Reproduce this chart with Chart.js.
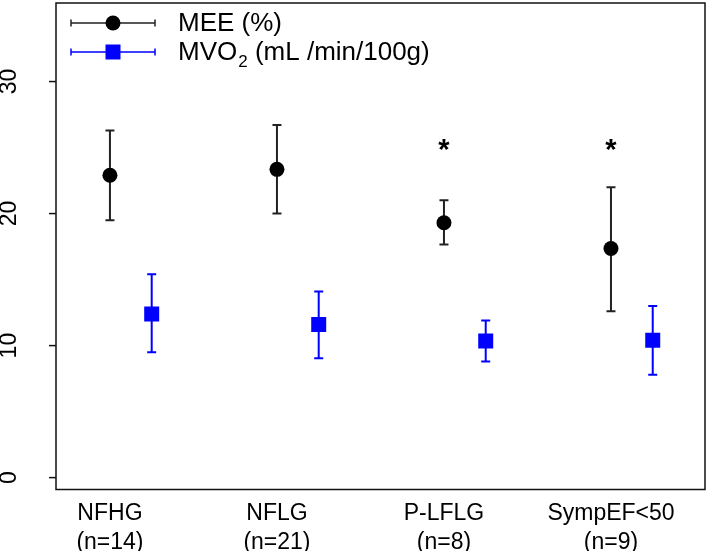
<!DOCTYPE html>
<html>
<head>
<meta charset="utf-8">
<script src="https://cdn.jsdelivr.net/npm/chart.js@4.4.1/dist/chart.umd.min.js"></script>
<style>
  html, body { margin: 0; padding: 0; background: #fff; }
  canvas { display: block; }
</style>
</head>
<body>
<canvas id="chart" width="709" height="551"></canvas>
<script>
// groups and their sample sizes
const categories = ["NFHG", "NFLG", "P-LFLG", "SympEF<50"];
const groupN = ["(n=14)", "(n=21)", "(n=8)", "(n=9)"];

// MEE (%) mean and error bar ends
const meeMean = [22.9, 23.35, 19.3, 17.35];
const meeLow = [19.5, 20.0, 17.65, 12.6];
const meeHigh = [26.3, 26.7, 21.0, 22.0];

// MVO2 (mL/min/100g) mean and error bar ends
const mvoMean = [12.4, 11.6, 10.35, 10.4];
const mvoLow = [9.5, 9.05, 8.8, 7.8];
const mvoHigh = [15.4, 14.1, 11.9, 13.0];

// significance marks above MEE
const sigMarks = ["", "", "*", "*"];
const sigLevel = 25.1;

const yTicks = [0, 10, 20, 30];

const FONT = "'Liberation Sans', Arial, sans-serif";
const BLACK = "#000000";
const BAR_BLACK = "#222222";
const BLUE = "#0000ff";
const MVO_OFFSET = 0.25;

const meePoints = meeMean.map((v, i) => ({ x: i + 1, y: v }));
const mvoPoints = mvoMean.map((v, i) => ({ x: i + 1 + MVO_OFFSET, y: v }));

// error bars, box, y axis labels, asterisks and legend
const extras = {
  id: "extras",
  beforeDatasetsDraw(chart) {
    const ctx = chart.ctx;
    const xs = chart.scales.x, ys = chart.scales.y;
    const bars = [
      { low: meeLow, high: meeHigh, off: 0, color: BAR_BLACK },
      { low: mvoLow, high: mvoHigh, off: MVO_OFFSET, color: BLUE }
    ];
    ctx.save();
    ctx.lineWidth = 2;
    bars.forEach(b => {
      ctx.strokeStyle = b.color;
      b.low.forEach((lo, i) => {
        const px = xs.getPixelForValue(i + 1 + b.off);
        const y1 = ys.getPixelForValue(lo);
        const y2 = ys.getPixelForValue(b.high[i]);
        ctx.beginPath();
        ctx.moveTo(px, y1); ctx.lineTo(px, y2);
        ctx.moveTo(px - 4.5, y1); ctx.lineTo(px + 4.5, y1);
        ctx.moveTo(px - 4.5, y2); ctx.lineTo(px + 4.5, y2);
        ctx.stroke();
      });
    });
    ctx.restore();
  },
  afterDraw(chart) {
    const ctx = chart.ctx;
    const a = chart.chartArea;
    const xs = chart.scales.x, ys = chart.scales.y;
    ctx.save();

    // plot box
    ctx.strokeStyle = "#111";
    ctx.lineWidth = 1.5;
    ctx.strokeRect(a.left, a.top, a.right - a.left, a.bottom - a.top);

    // y ticks, rotated labels
    ctx.fillStyle = "#000";
    ctx.font = "23px " + FONT;
    ctx.textAlign = "center";
    ctx.textBaseline = "middle";
    yTicks.forEach(t => {
      const py = ys.getPixelForValue(t);
      ctx.beginPath();
      ctx.moveTo(a.left - 7, py); ctx.lineTo(a.left, py);
      ctx.stroke();
      ctx.save();
      ctx.translate(10, py);
      ctx.rotate(-Math.PI / 2);
      ctx.fillText(String(t), 0, 0);
      ctx.restore();
    });

    // asterisks
    ctx.fillStyle = BLACK;
    ctx.font = "bold 29px " + FONT;
    sigMarks.forEach((m, i) => {
      if (!m) return;
      ctx.fillText(m, xs.getPixelForValue(i + 1), ys.getPixelForValue(sigLevel) + 5);
    });

    // legend
    const rows = [
      { y: 23, color: BAR_BLACK, fill: BLACK, shape: "circle" },
      { y: 52, color: BLUE, fill: BLUE, shape: "rect" }
    ];
    rows.forEach(r => {
      ctx.strokeStyle = r.color;
      ctx.lineWidth = 1.5;
      ctx.beginPath();
      ctx.moveTo(71, r.y); ctx.lineTo(155, r.y);
      ctx.moveTo(71, r.y - 3.5); ctx.lineTo(71, r.y + 3.5);
      ctx.moveTo(155, r.y - 3.5); ctx.lineTo(155, r.y + 3.5);
      ctx.stroke();
      ctx.fillStyle = r.fill;
      ctx.beginPath();
      if (r.shape === "circle") ctx.arc(113, r.y, 7.5, 0, Math.PI * 2);
      else ctx.rect(105.5, r.y - 7.5, 15, 15);
      ctx.fill();
    });
    ctx.fillStyle = "#000";
    ctx.textAlign = "left";
    ctx.textBaseline = "middle";
    ctx.font = "26px " + FONT;
    ctx.fillText("MEE (%)", 178, 24);
    let tx = 178;
    ctx.fillText("MVO", tx, 53);
    tx += ctx.measureText("MVO").width;
    ctx.font = "17px " + FONT;
    ctx.fillText("2", tx + 1, 62);
    tx += ctx.measureText("2").width + 1;
    ctx.font = "26px " + FONT;
    ctx.fillText(" (mL /min/100g)", tx, 53);

    ctx.restore();
  }
};

new Chart(document.getElementById("chart").getContext("2d"), {
  type: "scatter",
  data: {
    datasets: [
      {
        label: "MEE (%)",
        data: meePoints,
        pointStyle: "circle",
        pointRadius: 7.5,
        backgroundColor: BLACK,
        borderColor: BLACK,
        borderWidth: 0
      },
      {
        label: "MVO2 (mL /min/100g)",
        data: mvoPoints,
        pointStyle: "rect",
        pointRadius: 10.6,
        backgroundColor: BLUE,
        borderColor: BLUE,
        borderWidth: 0
      }
    ]
  },
  options: {
    responsive: false,
    animation: false,
    layout: { autoPadding: false, padding: { left: 0, top: 3, right: 4, bottom: 0 } },
    plugins: {
      legend: { display: false },
      tooltip: { enabled: false }
    },
    scales: {
      x: {
        type: "linear",
        min: 0.677,
        max: 4.563,
        grid: { display: false, drawTicks: false },
        border: { display: false },
        afterBuildTicks: (s) => { s.ticks = categories.map((c, i) => ({ value: i + 1 })); },
        afterFit: (s) => { s.height = 61.5; },
        ticks: {
          autoSkip: false,
          maxRotation: 0,
          padding: 10,
          color: "#000",
          font: { family: FONT, size: 23, lineHeight: 1.25 },
          callback: (v) => [categories[v - 1], groupN[v - 1]]
        }
      },
      y: {
        min: -0.9,
        max: 35.95,
        grid: { display: false, drawTicks: false },
        border: { display: false },
        ticks: { display: false },
        afterFit: (s) => { s.width = 56; }
      }
    }
  },
  plugins: [extras]
});
</script>
</body>
</html>
